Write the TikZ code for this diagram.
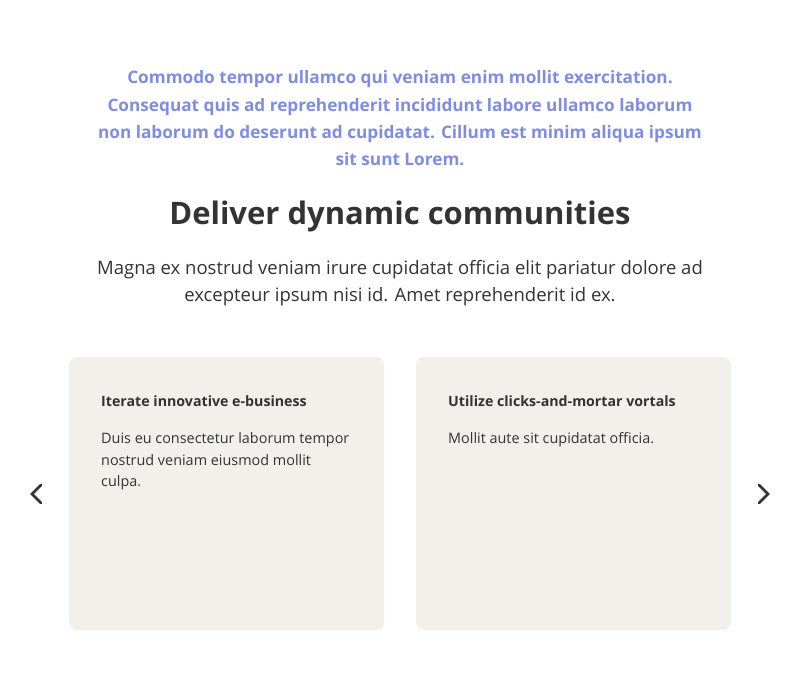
\documentclass[tikz,border=0pt]{standalone}
\usepackage{fontspec}
\setmainfont{Open Sans}
\usetikzlibrary{positioning}

\definecolor{introblue}{RGB}{127,140,226}
\definecolor{ink}{RGB}{51,51,51}
\definecolor{cardfill}{RGB}{243,240,235}

\begin{document}
\begin{tikzpicture}[x=1pt,y=-1pt,
  intro/.style = {text=introblue, font=\bfseries\fontsize{17.2}{27.3}\selectfont, align=center, inner sep=0},
  title/.style = {text=ink, font=\bfseries\fontsize{31}{36}\selectfont, inner sep=0},
  lead/.style = {text=ink, font=\fontsize{18.5}{27}\selectfont, align=center, inner sep=0},
  card/.style = {fill=cardfill, rounded corners=8pt},
  cardhead/.style = {text=ink, font=\bfseries\fontsize{14.2}{21.5}\selectfont, inner sep=0, anchor=north west},
  cardtext/.style = {text=ink, font=\fontsize{14.4}{21.6}\selectfont, align=left, inner sep=0, anchor=north west},
  chevron/.style = {draw=ink, line width=2.8pt, line cap=round, line join=miter}]
\useasboundingbox (0,0) rectangle (800,695);

% header texts
\node[intro, anchor=north] (intro) at (400,70.5) {Commodo tempor ullamco qui veniam enim mollit exercitation.\\
Consequat quis ad reprehenderit incididunt labore ullamco laborum\\
non laborum do deserunt ad cupidatat. Cillum est minim aliqua ipsum\\
sit sunt Lorem.};
\node[title, anchor=north] (head) at (400,201) {Deliver dynamic communities};
\node[lead, anchor=north] (lead) at (400,260.5) {Magna ex nostrud veniam irure cupidatat officia elit pariatur dolore ad\\
excepteur ipsum nisi id. Amet reprehenderit id ex.};

% cards
\fill[card] (69,357) rectangle (384,630);
\fill[card] (416,357) rectangle (731,630);
\node[cardhead] (h1) at (101,395.5) {Iterate innovative e-business};
\node[cardtext] (t1) at (101,432.5) {Duis eu consectetur laborum tempor\\
nostrud veniam eiusmod mollit\\
culpa.};
\node[cardhead] (h2) at (448,395.5) {Utilize clicks-and-mortar vortals};
\node[cardtext] (t2) at (448,432.5) {Mollit aute sit cupidatat officia.};

% arrows
\draw[chevron] (41,485) -- (32,494) -- (41,503);
\draw[chevron] (759,485) -- (768,494) -- (759,503);
\end{tikzpicture}
\end{document}
